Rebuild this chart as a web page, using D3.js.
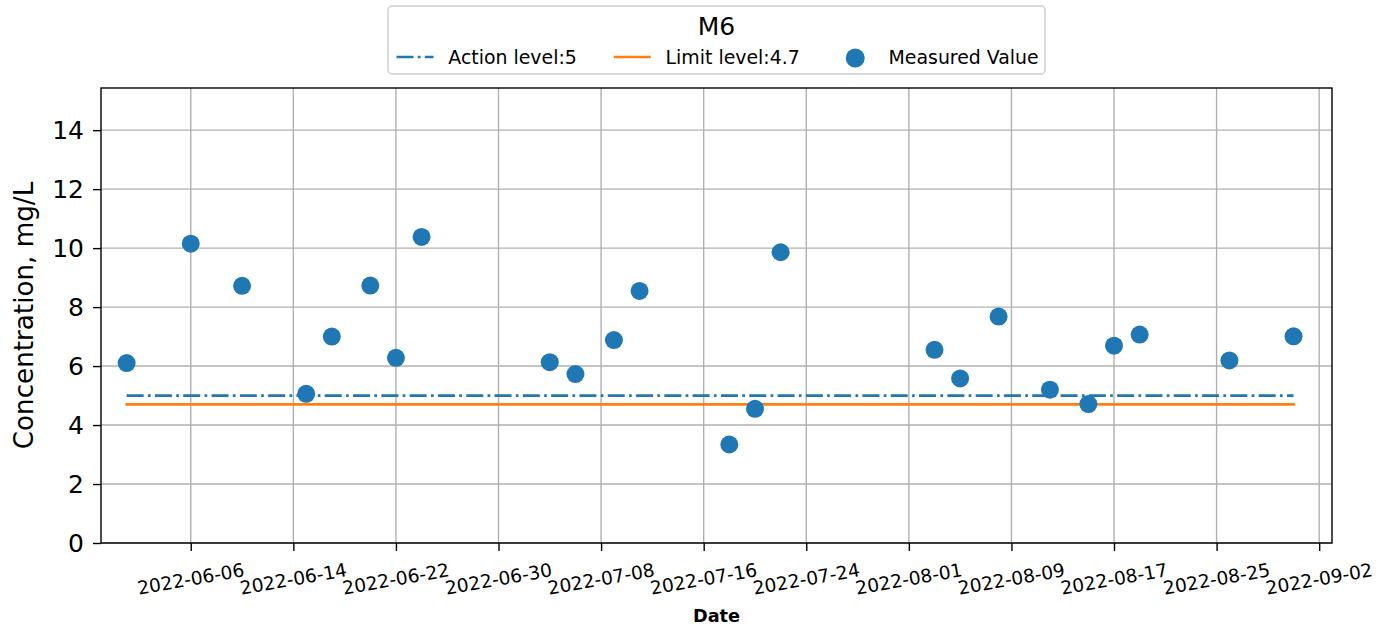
<!DOCTYPE html>
<html><head><meta charset="utf-8">
<script src="https://cdn.jsdelivr.net/npm/d3@7"></script>
<style>
body{margin:0;background:#fff}
svg{display:block}
text{font-family:"DejaVu Sans",sans-serif;fill:#000}
</style>
</head><body><svg id="chart" width="1393" height="634"></svg>
<script>
// ---- data ----
const dates = ["2022-06-01","2022-06-06","2022-06-10","2022-06-15","2022-06-17","2022-06-20","2022-06-22","2022-06-24",
  "2022-07-04","2022-07-06","2022-07-09","2022-07-11","2022-07-18","2022-07-20","2022-07-22",
  "2022-08-03","2022-08-05","2022-08-08","2022-08-12","2022-08-15","2022-08-17","2022-08-19","2022-08-26","2022-08-31"];
const values = [6.10,10.15,8.72,5.06,7.00,8.73,6.28,10.38,
  6.13,5.73,6.88,8.55,3.34,4.55,9.86,
  6.55,5.58,7.68,5.20,4.71,6.69,7.07,6.19,7.01];
const actionLevel = 5;
const limitLevel = 4.7;
const xTickLabels = ["2022-06-06","2022-06-14","2022-06-22","2022-06-30","2022-07-08","2022-07-16","2022-07-24",
  "2022-08-01","2022-08-09","2022-08-17","2022-08-25","2022-09-02"];
const yTicks = [0,2,4,6,8,10,12,14];
const xDomain = ["2022-05-30","2022-09-03"];
const yDomain = [0, 15.43];
const legendTitle = "M6";
const legendLabels = ["Action level:5","Limit level:4.7","Measured Value"];

// ---- layout ----
const svg = d3.select("#chart");
const L = 101, T = 88, R = 1332, B = 543;
const parse = d3.utcParse("%Y-%m-%d");
const fmt = d3.utcFormat("%Y-%m-%d");
const x = d3.scaleUtc().domain(xDomain.map(parse)).range([L, R]);
const y = d3.scaleLinear().domain(yDomain).range([B, T]);
const blue = "#1f77b4", orange = "#ff7f0e";
const pts = dates.map((d,i)=>({d:parse(d), v:values[i]}));

// grid
const g = svg.append("g");
g.selectAll(".vg").data(xTickLabels.map(parse)).join("line")
  .attr("x1",d=>x(d)).attr("x2",d=>x(d)).attr("y1",T).attr("y2",B)
  .attr("stroke","#b0b0b0").attr("stroke-width",1.4);
g.selectAll(".hg").data(yTicks).join("line")
  .attr("x1",L).attr("x2",R).attr("y1",d=>y(d)).attr("y2",d=>y(d))
  .attr("stroke","#b0b0b0").attr("stroke-width",1.4);

// reference lines
const ext = d3.extent(pts, p=>p.d);
svg.append("line").attr("x1",x(ext[0])).attr("x2",x(ext[1]))
  .attr("y1",y(actionLevel)).attr("y2",y(actionLevel))
  .attr("stroke",blue).attr("stroke-width",2.67).attr("stroke-dasharray","17,4.3,2.7,4.3");
svg.append("line").attr("x1",x(ext[0])-1.3).attr("x2",x(ext[1])+1.3)
  .attr("y1",y(limitLevel)).attr("y2",y(limitLevel))
  .attr("stroke",orange).attr("stroke-width",2.67);

// points
svg.append("g").selectAll("circle").data(pts).join("circle")
  .attr("cx",p=>x(p.d)).attr("cy",p=>y(p.v)).attr("r",9).attr("fill",blue);

// axes
const xAxis = d3.axisBottom(x).tickValues(xTickLabels.map(parse)).tickSize(8).tickFormat(fmt);
const xa = svg.append("g").attr("transform",`translate(0,${B})`).call(xAxis);
xa.select(".domain").remove();
xa.selectAll(".tick line").attr("stroke","#000").attr("stroke-width",1.4);
xa.selectAll(".tick text").remove();
svg.append("g").selectAll("text").data(xTickLabels).join("text")
  .attr("transform",d=>`translate(${x(parse(d))},579) rotate(-10)`)
  .attr("text-anchor","middle").attr("dominant-baseline","central")
  .style("font-size","18.6px").text(d=>d);

const yAxis = d3.axisLeft(y).tickValues(yTicks).tickSize(8).tickFormat(d3.format("d"));
const ya = svg.append("g").attr("transform",`translate(${L},0)`).call(yAxis);
ya.select(".domain").remove();
ya.selectAll(".tick line").attr("stroke","#000").attr("stroke-width",1.4);
ya.selectAll(".tick text").attr("x",-17).attr("dy",null).attr("dominant-baseline","central")
  .style("font-size","25px").style("font-family","DejaVu Sans").attr("fill","#000");

// spines
svg.append("rect").attr("x",L).attr("y",T).attr("width",R-L).attr("height",B-T)
  .attr("fill","none").attr("stroke","#000").attr("stroke-width",1.4);

// axis labels
svg.append("text").attr("x",(L+R)/2).attr("y",622).attr("text-anchor","middle")
  .style("font-size","17.7px").style("font-weight","bold").text("Date");
svg.append("text").attr("transform",`translate(33,${(T+B)/2}) rotate(-90)`).attr("text-anchor","middle")
  .style("font-size","26.2px").text("Concentration, mg/L");

// legend
const lg = svg.append("g");
lg.append("rect").attr("x",388).attr("y",6).attr("width",657).attr("height",68).attr("rx",4)
  .attr("fill","#fff").attr("fill-opacity",0.8).attr("stroke","#cccccc").attr("stroke-width",1.4);
lg.append("text").attr("x",716.5).attr("y",26).attr("text-anchor","middle").attr("dominant-baseline","central")
  .style("font-size","25px").text(legendTitle);
let cx = 396.5; const rowY = 57, hl = 37, pad = 14.8, colSp = 37;
legendLabels.forEach((lab,i)=>{
  if(i===0) lg.append("line").attr("x1",cx).attr("x2",cx+hl).attr("y1",rowY).attr("y2",rowY)
    .attr("stroke",blue).attr("stroke-width",2.67).attr("stroke-dasharray","17,4.3,2.7,4.3");
  else if(i===1) lg.append("line").attr("x1",cx).attr("x2",cx+hl).attr("y1",rowY).attr("y2",rowY)
    .attr("stroke",orange).attr("stroke-width",2.67);
  else lg.append("circle").attr("cx",cx+hl/2).attr("cy",rowY+1).attr("r",9.5).attr("fill",blue);
  const t = lg.append("text").attr("x",cx+hl+pad).attr("y",rowY).attr("dominant-baseline","central")
    .style("font-size","18.9px").text(lab);
  cx += hl + pad + t.node().getComputedTextLength() + colSp;
});
</script>
</body></html>
